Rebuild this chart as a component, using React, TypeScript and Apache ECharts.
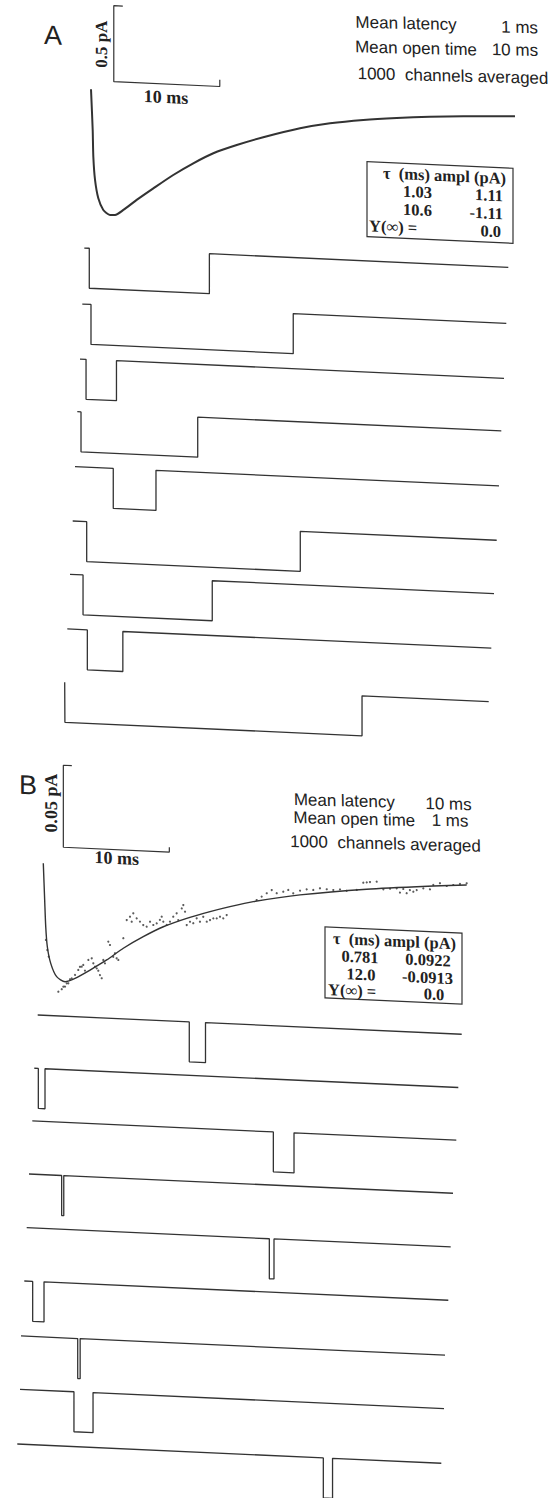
import React, { useEffect, useRef } from "react";
import * as echarts from "echarts";

// ---------------- data ----------------
const TRACE_END_MS = 40; // every sweep is 40 ms long
const CLOSED_LEVEL = 0;
const OPEN_LEVEL = -1; // unit single-channel amplitude

// Panel A: mean latency 1 ms, mean open time 10 ms
const latencyA = [0.47, 0.82, 0.57, 0.35, 3.61, 1.32, 1.23, 1.89, 0.02];
const closeA = [11.8, 19.9, 3.44, 11.36, 7.64, 21.47, 13.42, 5.24, 28.05];
// Panel B: mean latency 10 ms, mean open time 1 ms
const latencyB = [14.3, 0.38, 22.74, 3.08, 22.89, 0.79, 5.35, 5.09, 28.87];
const closeB = [15.83, 1.01, 24.69, 3.28, 23.33, 1.86, 5.58, 6.89, 29.74];

// averaged current, panel A (ms, pA)
const avgTimeA = [0, 0.16, 0.22, 0.38, 0.69, 1.16, 1.79, 2.26, 3.05, 4.31, 5.88, 7.76, 9.65, 11.54, 13.75, 16.25, 19.72, 22.55, 25.69, 28.84, 31.98, 35.12, 40];
const avgCurrentA = [0, -0.267, -0.443, -0.595, -0.715, -0.79, -0.821, -0.82, -0.784, -0.714, -0.633, -0.539, -0.456, -0.384, -0.323, -0.264, -0.194, -0.152, -0.12, -0.097, -0.079, -0.066, -0.05];

// fitted curve, panel B (ms, pA)
const fitTimeB = [0, 0.13, 0.23, 0.38, 0.7, 1.26, 2.05, 2.99, 4.41, 5.98, 7.55, 9.43, 11.32, 13.53, 15.73, 17.61, 19.81, 24.22, 30.51, 36.79, 39.94];
const fitCurrentB = [0, -0.0224, -0.0386, -0.0508, -0.0608, -0.0688, -0.0716, -0.0693, -0.0638, -0.0572, -0.0496, -0.042, -0.0354, -0.0296, -0.0249, -0.0213, -0.0176, -0.0122, -0.0069, -0.0031, -0.0015];

// averaged data points, panel B (ms, pA)
const dotTimeB = [
  0.25, 0.38, 0.51, 1.42, 1.74, 2.05, 2.36, 2.68, 3.3, 3.62, 3.93, 4.25, 4.57, 4.88, 5.19, 5.51, 5.82, 6.13, 6.6, 6.92,
  7.55, 7.87, 8.18, 8.49, 8.81, 9.43, 10.07, 10.7, 11.17, 11.64, 12.26, 12.74, 13.21, 13.53, 14.15, 14.78, 15.42, 16.04,
  16.67, 17.3, 20.13, 21.08, 22.02, 23.11, 24.22, 25.47, 26.74, 27.99, 29.57, 30.51, 31.45, 32.71, 33.65, 34.59, 35.85,
  36.79, 38.06, 39.31,
  1.89, 2.21, 2.52, 2.99, 3.46, 3.77, 4.72, 5.04, 5.35, 5.66, 6.29, 6.76, 7.08, 8.34, 9.12, 9.75, 10.38, 11.0, 11.32,
  11.95, 12.58, 13.06, 13.37, 13.84, 14.47, 15.09, 15.73, 16.36, 16.98,
  20.6, 21.55, 22.64, 23.58, 24.85, 26.1, 27.36, 28.62, 30.19, 30.82, 32.08, 33.34, 33.96, 34.28, 34.91, 35.23, 36.48,
  37.42, 38.68, 39.94,
];
const dotCurrentB = [
  -0.0467, -0.0528, -0.0568, -0.0779, -0.0763, -0.0746, -0.0725, -0.0694, -0.0641, -0.062, -0.0643, -0.0577, -0.0566,
  -0.0616, -0.064, -0.0685, -0.0593, -0.046, -0.0551, -0.0559, -0.0435, -0.0323, -0.0302, -0.028, -0.031, -0.0349,
  -0.0327, -0.0335, -0.0293, -0.0342, -0.029, -0.0309, -0.0216, -0.0337, -0.0324, -0.0313, -0.0311, -0.0289, -0.0277,
  -0.0265, -0.0165, -0.0121, -0.0118, -0.0095, -0.0096, -0.0088, -0.008, -0.0077, -0.0076, -0.0027, -0.002, -0.0059,
  -0.008, -0.0062, -0.0048, -0.0024, -0.0027, -0.0011,
  -0.0747, -0.0726, -0.07, -0.0672, -0.0621, -0.0609, -0.0596, -0.0626, -0.0666, -0.0573, -0.048, -0.0529, -0.0569,
  -0.0332, -0.0329, -0.0358, -0.0346, -0.0313, -0.0323, -0.0321, -0.0268, -0.0237, -0.0256, -0.0316, -0.0293, -0.0282,
  -0.03, -0.0288, -0.0286,
  -0.0143, -0.01, -0.0107, -0.0114, -0.0086, -0.0076, -0.0083, -0.0084, -0.003, -0.0024, -0.0065, -0.0055, -0.0057,
  -0.0082, -0.0071, -0.006, -0.0052, -0.0012, -0.0019, -0.0005,
];

// scale bars: start time (ms), base current (pA), lengths (ms, pA)
const scaleBarA = { t: 2.15, i: 0.057, dt: 10, di: 0.5 };
const scaleBarB = { t: 1.89, i: 0.0103, dt: 10, di: 0.05 };

const infoA = ["Mean latency", "1 ms", "Mean open time", "10 ms", "1000  channels averaged"];
const infoB = ["Mean latency", "10 ms", "Mean open time", "1 ms", "1000  channels averaged"];
const fitTableA = { header: "\u03c4  (ms) ampl (pA)", tau: ["1.03", "10.6"], ampl: ["1.11", "-1.11"], yinf: "0.0" };
const fitTableB = { header: "\u03c4  (ms) ampl (pA)", tau: ["0.781", "12.0"], ampl: ["0.0922", "-0.0913"], yinf: "0.0" };

// ---------------- layout ----------------
const SHIFT = 30;
const SKEW_DEG = 2.6;
const TRACE_W = 424;
const TRACE_H = 40;
const traceLeftA = [84.3, 82.3, 80, 77.3, 75, 72.7, 70, 67.3, 64.7];
const traceTopA = [274.2, 330.3, 385.4, 438.2, 493.3, 547.7, 601.1, 655.9, 709.4];
const traceLeftB = [37.7, 34.3, 32.3, 29, 26.7, 24.3, 21, 20, 17.3];
const traceTopB = [1043.3, 1096.7, 1149.5, 1202.7, 1256.5, 1309.9, 1365, 1418.4, 1473.2];

const INK = "#333";
const SANS = '"Liberation Sans", Arial, sans-serif';
const SERIF = '"Liberation Serif", "Times New Roman", serif';

function buildOption() {
  const grid: any[] = [];
  const xAxis: any[] = [];
  const yAxis: any[] = [];
  const series: any[] = [];

  const addGrid = (left: number, top: number, width: number, height: number, ymin: number, ymax: number) => {
    const idx = grid.length;
    grid.push({ left, top, width, height });
    xAxis.push({ type: "value", gridIndex: idx, min: 0, max: TRACE_END_MS, show: false });
    yAxis.push({ type: "value", gridIndex: idx, min: ymin, max: ymax, show: false });
    return idx;
  };

  const lineSeries = (idx: number, data: number[][], width: number, extra: any = {}) => ({
    type: "line",
    xAxisIndex: idx,
    yAxisIndex: idx,
    data,
    showSymbol: false,
    symbol: "none",
    clip: false,
    silent: true,
    lineStyle: { color: INK, width },
    ...extra,
  });

  const scaleBar = (b: { t: number; i: number; dt: number; di: number }, tickT: number, tickI: number) => [
    [b.t + tickT, b.i + b.di],
    [b.t, b.i + b.di],
    [b.t, b.i],
    [b.t + b.dt, b.i],
    [b.t + b.dt, b.i + tickI],
  ];

  const stepTrace = (lat: number, close: number) => [
    [0, CLOSED_LEVEL],
    [lat, CLOSED_LEVEL],
    [lat, OPEN_LEVEL],
    [close, OPEN_LEVEL],
    [close, CLOSED_LEVEL],
    [TRACE_END_MS, CLOSED_LEVEL],
  ];

  // panel A averaged
  const gA = addGrid(91, 30.08, TRACE_W, 221.9, -0.9, 0.56);
  series.push(lineSeries(gA, avgTimeA.map((t, k) => [t, avgCurrentA[k]]), 2, { smooth: 0.25 }));
  series.push(lineSeries(gA, scaleBar(scaleBarA, 0.85, 0.045), 1.2));

  latencyA.forEach((lat, k) => {
    const g = addGrid(traceLeftA[k], traceTopA[k], TRACE_W, TRACE_H, OPEN_LEVEL, CLOSED_LEVEL);
    series.push(lineSeries(g, stepTrace(lat, closeA[k]), 1.3));
  });

  // panel B averaged
  const gB = addGrid(43.3, 789.6, TRACE_W, 241.1, -0.085, 0.062);
  series.push(lineSeries(gB, fitTimeB.map((t, k) => [t, fitCurrentB[k]]), 1.4, { smooth: 0.25 }));
  series.push({
    type: "scatter",
    xAxisIndex: gB,
    yAxisIndex: gB,
    data: dotTimeB.map((t, k) => [t, dotCurrentB[k]]),
    symbol: "circle",
    symbolSize: 2.2,
    silent: true,
    clip: false,
    itemStyle: { color: INK },
  });
  series.push(lineSeries(gB, scaleBar(scaleBarB, 0.8, 0.003), 1.2));

  latencyB.forEach((lat, k) => {
    const g = addGrid(traceLeftB[k], traceTopB[k], TRACE_W, TRACE_H, OPEN_LEVEL, CLOSED_LEVEL);
    series.push(lineSeries(g, stepTrace(lat, closeB[k]), 1.3));
  });

  const txt = (text: string, x: number, y: number, font: string, align = "center", rotation = 0) => ({
    type: "text",
    x,
    y,
    rotation,
    silent: true,
    style: {
      text,
      font,
      fill: "#222",
      textAlign: align,
      textVerticalAlign: "middle",
      align,
      verticalAlign: "middle",
    },
  });

  const info = `17px ${SANS}`;
  const tab = `bold 16.5px ${SERIF}`;
  const rot = 0.02;

  const elements: any[] = [
    txt("A", 53, 63.1, `27px ${SANS}`),
    txt("0.5 pA", 102, 69.4, `bold 17px ${SERIF}`, "center", Math.PI / 2),
    txt("10 ms", 166, 119.5, `bold 18px ${SERIF}`),
    txt(infoA[0], 406, 35.0, info, "center", rot),
    txt(infoA[1], 519.6, 33.8, info, "center", rot),
    txt(infoA[2], 416, 59.5, info, "center", rot),
    txt(infoA[3], 514.9, 56.6, info, "center", rot),
    txt(infoA[4], 453, 85.4, info, "center", rot),
    {
      type: "rect",
      silent: true,
      shape: { x: 367, y: 175, width: 146, height: 75 },
      style: { fill: "none", stroke: INK, lineWidth: 1.2 },
    },
    txt(fitTableA.header, 383, 185.5, tab, "left"),
    txt(fitTableA.tau[0], 417.5, 203, tab),
    txt(fitTableA.ampl[0], 503, 203, tab, "right"),
    txt(fitTableA.tau[1], 417.5, 221, tab),
    txt(fitTableA.ampl[1], 503, 221, tab, "right"),
    txt("\u03a5(\u221e) =", 369, 239, tab, "left"),
    txt(fitTableA.yinf, 501, 239, tab, "right"),

    txt("B", 28, 814, `27px ${SANS}`),
    txt("0.05 pA", 51, 830.7, `bold 18px ${SERIF}`, "center", Math.PI / 2),
    txt("10 ms", 116.7, 882.7, `bold 18px ${SERIF}`),
    txt(infoB[0], 344.3, 815.2, info, "center", rot),
    txt(infoB[1], 448.5, 813.7, info, "center", rot),
    txt(infoB[2], 354.3, 833, info, "center", rot),
    txt(infoB[3], 450, 830.2, info, "center", rot),
    txt(infoB[4], 385.5, 856.3, info, "center", rot),
    {
      type: "rect",
      silent: true,
      shape: { x: 325, y: 942.1, width: 137, height: 71 },
      style: { fill: "none", stroke: INK, lineWidth: 1.2 },
    },
    txt(fitTableB.header, 333, 953.1, tab, "left"),
    txt(fitTableB.tau[0], 360, 970.6, tab),
    txt(fitTableB.ampl[0], 428, 970.6, tab),
    txt(fitTableB.tau[1], 361, 988.1, tab),
    txt(fitTableB.ampl[1], 427.5, 988.1, tab),
    txt("\u03a5(\u221e) =", 328, 1004.6, tab, "left"),
    txt(fitTableB.yinf, 434, 1004.6, tab),
  ];

  return {
    animation: false,
    backgroundColor: "#fff",
    grid,
    xAxis,
    yAxis,
    series,
    graphic: { elements },
  };
}

export default function App() {
  const ref = useRef<HTMLDivElement>(null);
  useEffect(() => {
    if (!ref.current) return;
    const chart = echarts.init(ref.current, null, { renderer: "svg" });
    chart.setOption(buildOption() as any);
    return () => chart.dispose();
  }, []);
  return (
    <div
      style={{
        position: "absolute",
        left: 0,
        top: 0,
        width: 553,
        height: 1498,
        overflow: "hidden",
        background: "#fff",
      }}
    >
      <div
        ref={ref}
        style={{
          width: 553,
          height: 1560,
          transform: `translateY(-${SHIFT}px) skewY(${SKEW_DEG}deg)`,
          transformOrigin: "0 0",
        }}
      />
    </div>
  );
}
